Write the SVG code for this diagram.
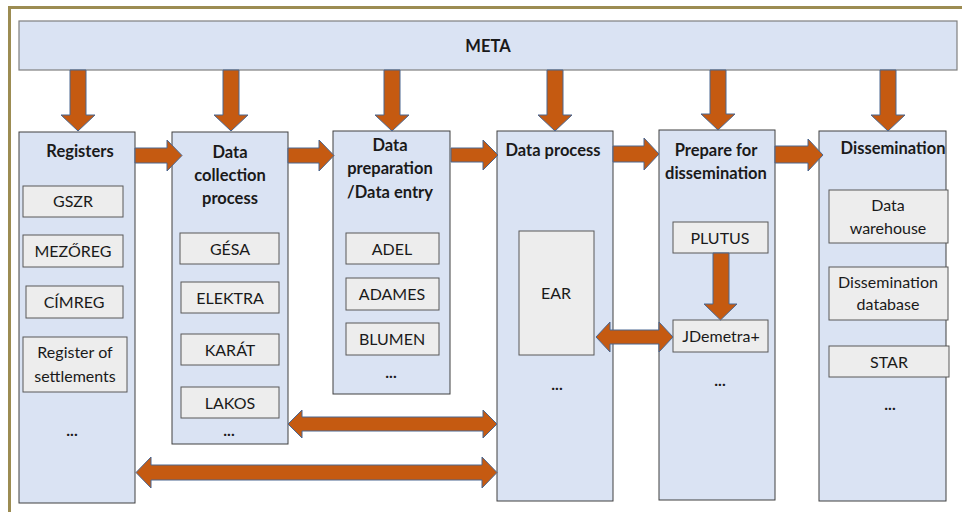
<svg xmlns="http://www.w3.org/2000/svg" width="962" height="512" viewBox="0 0 962 512">
<style>
.col{fill:#dae3f3;stroke:#404040;stroke-width:1}
.bar{fill:#dae3f3;stroke:#7f7f7f;stroke-width:1.2}
.item{fill:#ededed;stroke:#595959;stroke-width:1}
.arr{fill:#c55a11;stroke:#4a6690;stroke-width:1}
.h{font-family:Lato,"Liberation Sans",sans-serif;font-weight:bold;font-size:16.5px;fill:#1a1a1a;text-anchor:middle}
.t{font-family:Lato,"Liberation Sans",sans-serif;font-size:16px;fill:#1a1a1a;text-anchor:middle}
.d{font-family:Lato,"Liberation Sans",sans-serif;font-weight:bold;font-size:16px;fill:#1a1a1a;text-anchor:middle}
</style>
<rect width="962" height="512" fill="#ffffff"/>
<path d="M9.5,512 V7.5 H962" fill="none" stroke="#9c8c52" stroke-width="3"/>
<g id="meta">
<rect class="bar" x="19" y="21" width="938" height="49"/>
<text class="h" x="488" y="52">META</text>
</g>
<g id="registers">
<rect class="col" x="19" y="132" width="116" height="371"/>
<text class="h" x="80" y="157">Registers</text>
<rect class="item" x="23" y="186" width="100" height="31"/>
<text class="t" x="73" y="207">GSZR</text>
<rect class="item" x="23" y="235" width="100" height="32"/>
<text class="t" x="73" y="257">MEZŐREG</text>
<rect class="item" x="26" y="286" width="97" height="32"/>
<text class="t" x="74" y="308">CÍMREG</text>
<rect class="item" x="23" y="337" width="104" height="55"/>
<text class="t" x="75" y="358">Register of</text>
<text class="t" x="75" y="382">settlements</text>
<text class="d" x="72" y="436">...</text>
</g>
<g id="data-collection">
<rect class="col" x="172" y="132" width="116" height="312"/>
<text class="h" x="230" y="158">Data</text>
<text class="h" x="230" y="181">collection</text>
<text class="h" x="230" y="204">process</text>
<rect class="item" x="180" y="233" width="99" height="31"/>
<text class="t" x="230" y="255">GÉSA</text>
<rect class="item" x="181" y="282" width="98" height="31"/>
<text class="t" x="230" y="304">ELEKTRA</text>
<rect class="item" x="181" y="334" width="98" height="31"/>
<text class="t" x="230" y="356">KARÁT</text>
<rect class="item" x="181" y="387" width="98" height="31"/>
<text class="t" x="230" y="409">LAKOS</text>
<text class="d" x="229" y="436">...</text>
</g>
<g id="data-preparation">
<rect class="col" x="333" y="131" width="117" height="263"/>
<text class="h" x="390" y="151">Data</text>
<text class="h" x="390" y="174">preparation</text>
<text class="h" x="390" y="198">/Data entry</text>
<rect class="item" x="346" y="233" width="93" height="31"/>
<text class="t" x="392" y="255">ADEL</text>
<rect class="item" x="346" y="278" width="93" height="32"/>
<text class="t" x="392" y="300">ADAMES</text>
<rect class="item" x="346" y="323" width="93" height="32"/>
<text class="t" x="392" y="345">BLUMEN</text>
<text class="d" x="391" y="378">...</text>
</g>
<g id="data-process">
<rect class="col" x="497" y="131" width="116" height="370"/>
<text class="h" x="553" y="156">Data process</text>
<rect class="item" x="519" y="231" width="75" height="124"/>
<text class="t" x="556" y="299">EAR</text>
<text class="d" x="557" y="390">...</text>
</g>
<g id="prepare-dissemination">
<rect class="col" x="659" y="130" width="116" height="370"/>
<text class="h" x="716" y="156">Prepare for</text>
<text class="h" x="716" y="179">dissemination</text>
<rect class="item" x="673" y="222" width="95" height="31"/>
<text class="t" x="720" y="244">PLUTUS</text>
<rect class="item" x="673" y="320" width="95" height="32"/>
<text class="t" x="721" y="342">JDemetra+</text>
<text class="d" x="720" y="386">...</text>
</g>
<g id="dissemination">
<rect class="col" x="819" y="131" width="127" height="370"/>
<text class="h" x="893" y="154">Dissemination</text>
<rect class="item" x="829" y="190" width="119" height="53"/>
<text class="t" x="888" y="211">Data</text>
<text class="t" x="888" y="234">warehouse</text>
<rect class="item" x="829" y="267" width="119" height="53"/>
<text class="t" x="888" y="288">Dissemination</text>
<text class="t" x="888" y="310">database</text>
<rect class="item" x="829" y="346" width="120" height="31"/>
<text class="t" x="889" y="368">STAR</text>
<text class="d" x="890" y="410">...</text>
</g>
<g id="connectors">
<path class="arr" d="M70,70 V115 H61 L78,131 L95,115 H86 V70 Z"/>
<path class="arr" d="M223,70 V115 H214 L231,131 L248,115 H239 V70 Z"/>
<path class="arr" d="M384,70 V115 H375 L392,131 L409,115 H400 V70 Z"/>
<path class="arr" d="M547,70 V115 H538 L555,131 L572,115 H563 V70 Z"/>
<path class="arr" d="M710,70 V114 H701 L718,130 L735,114 H726 V70 Z"/>
<path class="arr" d="M880,70 V115 H871 L888,131 L905,115 H896 V70 Z"/>
<path class="arr" d="M135,148 H167 V140 L182,155.5 L167,171 V163 H135 Z"/>
<path class="arr" d="M288,148 H319 V140 L334,155.5 L319,171 V163 H288 Z"/>
<path class="arr" d="M451,148 H483 V140 L498,155 L483,170 V162 H451 Z"/>
<path class="arr" d="M613,146 H644 V138 L659,154 L644,170 V162 H613 Z"/>
<path class="arr" d="M775,146 H808 V139 L823,155 L808,171 V163 H775 Z"/>
<path class="arr" d="M713,253 V304 H704 L720.5,320 L737,304 H729 V253 Z"/>
<path class="arr" d="M596,337 L610,322 V330 H659 V322 L673,337 L659,352 V344 H610 V352 Z"/>
<path class="arr" d="M288,424 L302,410 V417 H483 V410 L497,424 L483,438 V431 H302 V438 Z"/>
<path class="arr" d="M136,472.5 L151,457 V465 H482 V457 L497,472.5 L482,488 V480 H151 V488 Z"/>
</g>
</svg>
